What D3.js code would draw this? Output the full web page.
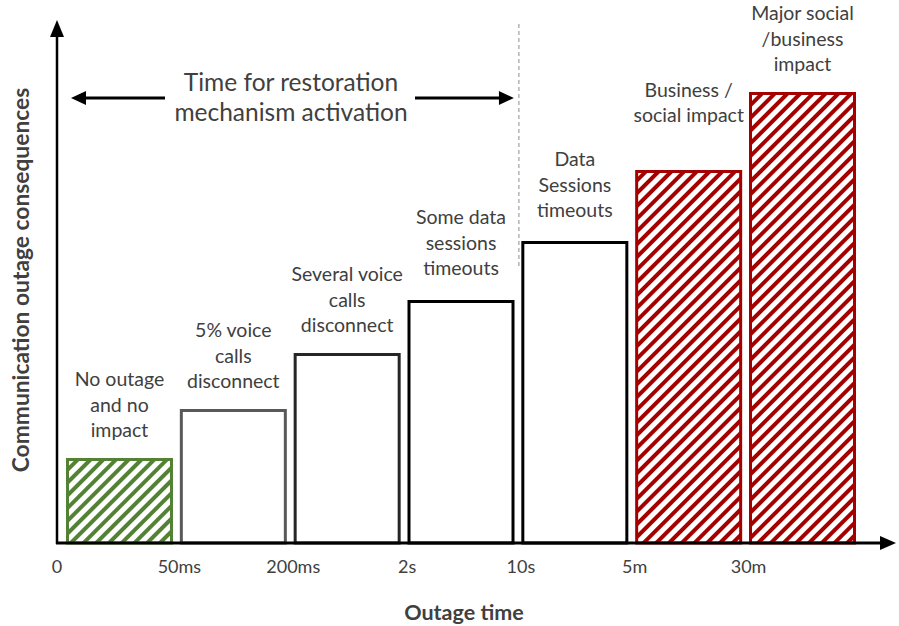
<!DOCTYPE html>
<html lang="en">
<head>
<meta charset="utf-8">
<title>Outage consequences</title>
<script src="https://d3js.org/d3.v7.min.js"></script>
<style>
  body { margin: 0; background: #fff; }
  text { font-family: Lato, "Open Sans", sans-serif; }
</style>
</head>
<body>
<script>

// chart data
var categories = ["noimpact", "voice5", "voiceSeveral", "dataSome", "dataAll", "business", "major"];
var consequence = [85, 134, 190, 243, 302, 373, 451];
var barLabels = [
  ["No outage", "and no", "impact"],
  ["5% voice", "calls", "disconnect"],
  ["Several voice", "calls", "disconnect"],
  ["Some data", "sessions", "timeouts"],
  ["Data", "Sessions", "timeouts"],
  ["Business /", "social impact"],
  ["Major social", "/business", "impact"]
];
var tickLabels = ["0", "50ms", "200ms", "2s", "10s", "5m", "30m"];

// styling / layout
var strokeColors = ["#548235", "#595959", "#262626", "#000", "#000", "#a50000", "#a50000"];
var hatched = [true, false, false, false, false, true, true];
var labelLift = [0, 0, 0, 4, 3, 27, 0];

var W = 899, H = 626;
var x0 = 57, base = 543;

var svg = d3.select("body").append("svg")
    .attr("width", W)
    .attr("height", H);

var defs = svg.append("defs");

// diagonal hatch patterns
function hatch(id, color) {
  var p = defs.append("pattern")
      .attr("id", id)
      .attr("patternUnits", "userSpaceOnUse")
      .attr("width", 9)
      .attr("height", 9)
      .attr("patternTransform", "rotate(45)");
  p.append("rect").attr("width", 9).attr("height", 9).attr("fill", "#fff");
  p.append("line")
      .attr("x1", 0).attr("y1", 0).attr("x2", 0).attr("y2", 9)
      .attr("stroke", color)
      .attr("stroke-width", 8);
}
hatch("hatch-green", "#548235");
hatch("hatch-red", "#a50000");

var x = d3.scaleBand()
    .domain(categories)
    .range([66, 856])
    .paddingInner(0.06)
    .paddingOuter(0);

var y = d3.scaleLinear()
    .domain([0, 520])
    .range([base, base - 520]);

var gap = x.step() - x.bandwidth();

// bars
svg.append("g")
  .selectAll("rect")
  .data(categories)
  .enter().append("rect")
    .attr("x", function(d) { return x(d) + 1.5; })
    .attr("y", function(d, i) { return y(consequence[i]) + 1.5; })
    .attr("width", x.bandwidth() - 3)
    .attr("height", function(d, i) { return y(0) - y(consequence[i]) - 1.5; })
    .attr("fill", function(d, i) {
      if (!hatched[i]) return "#fff";
      return i == 0 ? "url(#hatch-green)" : "url(#hatch-red)";
    })
    .attr("stroke", function(d, i) { return strokeColors[i]; })
    .attr("stroke-width", 3);

// bar labels
categories.forEach(function(c, i) {
  var lines = barLabels[i];
  var cx = x(c) + x.bandwidth() / 2;
  var lastY = y(consequence[i]) - 28 - labelLift[i];
  var t = svg.append("text")
      .attr("text-anchor", "middle")
      .attr("fill", "#404040")
      .style("font-size", "19.5px");
  lines.forEach(function(l, j) {
    t.append("tspan")
        .attr("x", cx)
        .attr("y", lastY - (lines.length - 1 - j) * 25.5 + 7)
        .text(l);
  });
});

// axes
svg.append("line")
    .attr("x1", x0).attr("y1", base + 1)
    .attr("x2", x0).attr("y2", 34)
    .attr("stroke", "#000").attr("stroke-width", 2.5);
svg.append("path")
    .attr("d", "M" + x0 + ",20 L" + (x0 - 7) + ",37 L" + (x0 + 7) + ",37 Z")
    .attr("fill", "#000");

svg.append("line")
    .attr("x1", x0 - 1).attr("y1", base)
    .attr("x2", 882).attr("y2", base)
    .attr("stroke", "#000").attr("stroke-width", 3);
svg.append("path")
    .attr("d", "M896," + base + " L880," + (base - 7) + " L880," + (base + 7) + " Z")
    .attr("fill", "#000");

// tick labels at bar boundaries
svg.append("g")
  .selectAll("text")
  .data(tickLabels)
  .enter().append("text")
    .attr("x", function(d, i) {
      return i == 0 ? x0 : x(categories[i]) - gap / 2 + 3;
    })
    .attr("y", 573)
    .attr("text-anchor", "middle")
    .attr("fill", "#404040")
    .style("font-size", "18px")
    .text(function(d) { return d; });

// axis titles
svg.append("text")
    .attr("x", 464)
    .attr("y", 620)
    .attr("text-anchor", "middle")
    .attr("font-weight", "bold")
    .attr("fill", "#404040")
    .style("font-size", "21.5px")
    .text("Outage time");

svg.append("text")
    .attr("transform", "translate(29," + 280 + ") rotate(-90)")
    .attr("text-anchor", "middle")
    .attr("font-weight", "bold")
    .attr("fill", "#404040")
    .style("font-size", "22.8px")
    .text("Communication outage consequences");

// restoration window annotation
var splitX = x(categories[4]) - gap / 2 + 1;

svg.append("line")
    .attr("x1", splitX).attr("y1", 24)
    .attr("x2", splitX).attr("y2", 268)
    .attr("stroke", "#8c8c8c")
    .attr("stroke-width", 1)
    .attr("stroke-dasharray", "4,3");

var arrowY = 98;
svg.append("line")
    .attr("x1", 84).attr("y1", arrowY)
    .attr("x2", 165).attr("y2", arrowY)
    .attr("stroke", "#000").attr("stroke-width", 3);
svg.append("path")
    .attr("d", "M71," + arrowY + " L86," + (arrowY - 7) + " L86," + (arrowY + 7) + " Z")
    .attr("fill", "#000");
svg.append("line")
    .attr("x1", 415).attr("y1", arrowY)
    .attr("x2", splitX - 18).attr("y2", arrowY)
    .attr("stroke", "#000").attr("stroke-width", 3);
svg.append("path")
    .attr("d", "M" + (splitX - 5) + "," + arrowY + " L" + (splitX - 20) + "," + (arrowY - 7) +
          " L" + (splitX - 20) + "," + (arrowY + 7) + " Z")
    .attr("fill", "#000");

var ann = svg.append("text")
    .attr("text-anchor", "middle")
    .attr("fill", "#404040")
    .style("font-size", "24.5px");
ann.append("tspan").attr("x", 291).attr("y", 91).text("Time for restoration");
ann.append("tspan").attr("x", 291).attr("y", 121).text("mechanism activation");

</script>
</body>
</html>
